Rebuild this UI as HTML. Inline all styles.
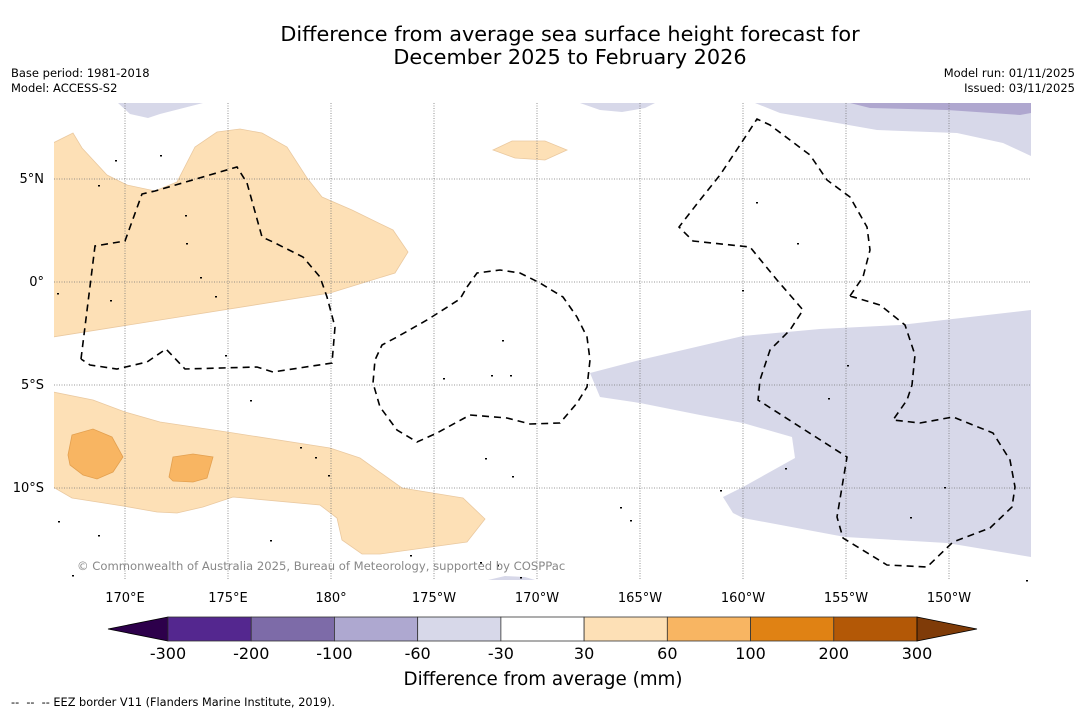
<!DOCTYPE html>
<html><head><meta charset="utf-8"><style>
html,body{margin:0;padding:0;background:#fff;}
svg{display:block;font-family:"DejaVu Sans","Liberation Sans",sans-serif;}
</style></head><body>
<svg id="root" width="1085" height="713" viewBox="0 0 1085 713">
<text x="570" y="41" font-size="20.8" text-anchor="middle">Difference from average sea surface height forecast for</text>
<text x="570" y="64" font-size="20.8" text-anchor="middle">December 2025 to February 2026</text>
<text x="11" y="77" font-size="11.5">Base period: 1981-2018</text>
<text x="11" y="92" font-size="11.5">Model: ACCESS-S2</text>
<text x="1075" y="77" font-size="11.5" text-anchor="end">Model run: 01/11/2025</text>
<text x="1075" y="92" font-size="11.5" text-anchor="end">Issued: 03/11/2025</text>

<g>
<clipPath id="mc"><rect x="54" y="103" width="977" height="477"/></clipPath>
<g clip-path="url(#mc)">
<polygon fill="#fde0b6" stroke="#eac9a0" stroke-width="0.8" points="53,143 73,133 82,148 107,175 127,185 155,191 177,182 195,147 217,132 240,129 262,133 287,147 307,178 322,197 352,210 393,230 408,252 395,273 330,293 53,337"/>
<polygon fill="#fde0b6" stroke="#eac9a0" stroke-width="0.8" points="493,150 512,141 545,141 567,150 545,160 515,158"/>
<polygon fill="#fde0b6" stroke="#eac9a0" stroke-width="0.8" points="53,392 93,400 125,412 160,422 227,432 330,448 360,458 402,488 463,498 485,519 467,542 380,554 362,554 342,540 337,518 320,505 233,497 203,507 177,513 157,512 123,506 72,498 53,487"/>
<polygon fill="#f8b562" stroke="#e3a050" stroke-width="0.8" points="72,435 93,429 112,437 123,457 113,472 97,479 83,475 70,465 68,455"/>
<polygon fill="#f8b562" stroke="#e3a050" stroke-width="0.8" points="173,457 193,454 213,457 207,478 193,482 173,481 169,477"/>
<polygon fill="#d7d8e9" points="590,373 640,360 743,336 820,329 900,325 1031,310 1031,557 947,543 845,537 743,518 733,513 723,497 743,487 795,458 792,437 743,423 700,415 640,403 600,397"/>
<polygon fill="#d7d8e9" points="755,103 780,113 877,130 957,133 1003,143 1031,156 1031,103"/>
<polygon fill="#afa7cf" points="850,103 870,108 947,110 1020,115 1031,113 1031,103"/>
<polygon fill="#d7d8e9" points="580,103 600,110 622,112 645,108 655,103"/>
<polygon fill="#d7d8e9" points="118,103 130,114 148,118 160,114 203,103"/>
<polygon fill="#d7d8e9" points="488,580 505,576 525,577 535,580"/>
</g>
<g id="grid" stroke="#777" stroke-width="0.8" stroke-dasharray="1,1.5"></g>
<g fill="none" stroke="#000" stroke-width="1.6" stroke-dasharray="7,5">
<polyline points="81,359 95,246 125,241 142,194 155,191 237,167 247,183 262,237 273,242 303,257 320,277 327,297 335,327 332,363 273,372 257,367 185,369 166,349 147,362 117,369 90,365 81,359"/>
<polyline points="467,287 477,273 500,270 520,273 540,283 563,297 577,317 587,337 590,360 587,387 577,403 560,423 530,424 507,418 470,415 437,433 417,442 397,430 380,407 373,383 375,360 382,345 397,337 427,320 460,299 467,287"/>
<polyline points="850,296 863,277 870,250 867,227 850,197 827,180 810,155 770,125 757,119 740,145 720,175 700,200 679,227 693,241 750,247 777,280 803,310 790,330 770,350 760,380 758,400 847,457 837,517 843,538 887,565 927,567 953,542 990,528 1012,507 1015,487 1010,460 993,433 953,417 920,423 893,420 907,400 912,385 915,355 905,325 880,305 850,296"/>
</g>
<g id="islands" fill="#000"></g>
<text x="77" y="570" font-size="11.6" fill="#888">© Commonwealth of Australia 2025, Bureau of Meteorology, supported by COSPPac</text>
<g id="axes" font-size="13"></g>
</g>

<g id="cbar"></g>
<text x="543" y="685" font-size="18.3" text-anchor="middle">Difference from average (mm)</text>
<text x="11" y="706" font-size="11.3" xml:space="preserve" style="white-space:pre">--  --  -- EEZ border V11 (Flanders Marine Institute, 2019).</text>
</svg>
<script>
const lonLabels = ["170°E","175°E","180°","175°W","170°W","165°W","160°W","155°W","150°W"];
const lonValues = [170,175,180,185,190,195,200,205,210];
const latLabels = ["5°N","0°","5°S","10°S"];
const latValues = [5,0,-5,-10];
const binEdges = [-300,-200,-100,-60,-30,30,60,100,200,300];
const binColors = ["#54278f","#7d6ba8","#aea8d0","#d7d8e9","#ffffff","#fde0b6","#f8b562","#e08214","#b35806"];
const underColor = "#2d004b";
const overColor = "#7f3b08";
const islandPts = [[58,521],[72,575],[98,535],[186,243],[200,277],[215,296],[250,400],[300,447],[315,457],[328,475],[410,555],[443,378],[491,375],[502,340],[510,375],[485,458],[512,476],[620,507],[630,520],[720,490],[742,290],[756,202],[797,243],[785,468],[828,398],[847,365],[944,487],[910,517],[1026,580],[270,540],[520,577],[497,565],[480,562],[115,160],[98,185],[160,155],[185,215],[57,293],[225,355],[110,300]];
const NS='http://www.w3.org/2000/svg';
const xLon = v => 125 + (v-170)*103/5;
const yLat = v => 282 - v*103/5;
function mk(tag, attrs, parent){const e=document.createElementNS(NS,tag);for(const k in attrs)e.setAttribute(k,attrs[k]);parent.appendChild(e);return e;}
const grid=document.getElementById('grid'), axes=document.getElementById('axes');
lonValues.forEach((v,i)=>{
  const l=mk('line',{x1:xLon(v),x2:xLon(v),y1:103,y2:580},grid);
  
  
  const t=mk('text',{x:xLon(v),y:602,'text-anchor':'middle'},axes);t.textContent=lonLabels[i];
  
  
});
latValues.forEach((v,i)=>{
  const l=mk('line',{x1:54,x2:1031,y1:yLat(v),y2:yLat(v)},grid);
  
  
  const t=mk('text',{x:44,y:yLat(v)+4,'text-anchor':'end'},axes);t.textContent=latLabels[i];
  
  
});
const isl=document.getElementById('islands');
islandPts.forEach(p=>{
  const c=mk('rect',{x:p[0],y:p[1],width:2,height:1.5},isl);
  
  
});
const cb=document.getElementById('cbar');
const cbX0=168, cbW=(917-168)/(binEdges.length-1), cbY=617, cbH=24;
const xb=i=>cbX0+i*cbW;
const u=mk('polygon',{points:`${xb(0)},${cbY} 108,${cbY+cbH/2} ${xb(0)},${cbY+cbH}`,fill:underColor,stroke:'#000','stroke-width':0.8},cb);


binColors.forEach((c,i)=>{
  const r=mk('rect',{x:xb(i),y:cbY,width:cbW,height:cbH,fill:c,stroke:'#333','stroke-width':0.8},cb);
  
  
});
const last=xb(binColors.length);
const o=mk('polygon',{points:`${last},${cbY} 977,${cbY+cbH/2} ${last},${cbY+cbH}`,fill:overColor,stroke:'#000','stroke-width':0.8},cb);


binEdges.forEach((v,i)=>{
  const t=mk('text',{x:xb(i),y:659,'font-size':16,'text-anchor':'middle'},cb);t.textContent=v;
  
  
});
</script>
</body></html>
